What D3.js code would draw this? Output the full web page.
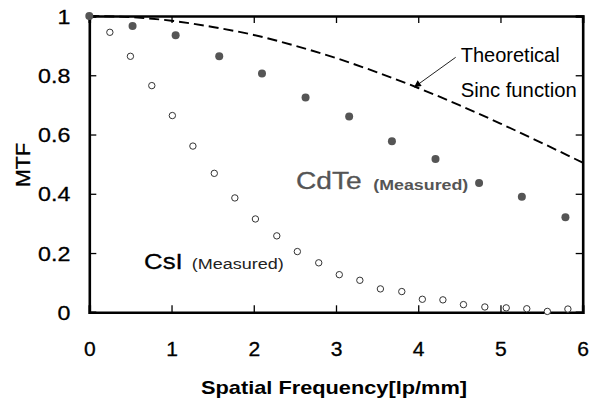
<!DOCTYPE html>
<html>
<head>
<meta charset="utf-8">
<script src="https://cdn.jsdelivr.net/npm/d3@7"></script>
<style>
  body { margin: 0; background: #fff; }
  text { font-family: "Liberation Sans", Arial, sans-serif; }
</style>
</head>
<body>
<div id="chart"></div>
<script>
// values
var cdteFreq = [0, 0.526, 1.05, 1.58, 2.10, 2.63, 3.16, 3.68, 4.21, 4.74, 5.26, 5.79];
var cdteMtf = [1, 0.966, 0.935, 0.864, 0.806, 0.725, 0.661, 0.577, 0.517, 0.436, 0.390, 0.321];

var csiFreq = [0.25, 0.50, 0.76, 1.01, 1.26, 1.52, 1.77, 2.02, 2.28, 2.53, 2.79, 3.04,
  3.29, 3.54, 3.80, 4.05, 4.30, 4.55, 4.81, 5.07, 5.32, 5.57, 5.82];
var csiMtf = [0.945, 0.864, 0.765, 0.664, 0.561, 0.469, 0.386, 0.315, 0.258, 0.205, 0.167, 0.127,
  0.108, 0.079, 0.070, 0.044, 0.042, 0.026, 0.018, 0.015, 0.012, 0.003, 0.011];

var sincFreq = [0, 0.5, 1, 1.5, 2, 2.5, 3, 3.5, 4, 4.5, 5, 5.5, 6];
var sincMtf = [1, 0.996, 0.984, 0.963, 0.936, 0.900, 0.858, 0.810, 0.757, 0.699, 0.637, 0.572, 0.505];

var xTicks = [0, 1, 2, 3, 4, 5, 6];
var xTickLabels = ["0", "1", "2", "3", "4", "5", "6"];
var yTicks = [0, 0.2, 0.4, 0.6, 0.8, 1];
var yTickLabels = ["0", "0.2", "0.4", "0.6", "0.8", "1"];

var svgWidth = 589;
var svgHeight = 400;
var margin = { top: 16, right: 6.3, bottom: 87.7, left: 89.3 };
var width = svgWidth - margin.left - margin.right;
var height = svgHeight - margin.top - margin.bottom;

var svg = d3.select("#chart")
  .append("svg")
  .attr("width", svgWidth)
  .attr("height", svgHeight);

var chartGroup = svg.append("g")
  .attr("transform", `translate(${margin.left}, ${margin.top})`);

var x = d3.scaleLinear().domain([0, 6]).range([0, width]);
var y = d3.scaleLinear().domain([0, 1]).range([height, 0]);

// stretch text horizontally like the picture
function stretch(sel, k) {
  sel.each(function() {
    var w = this.getComputedTextLength();
    d3.select(this).attr("textLength", w * k).attr("lengthAdjust", "spacingAndGlyphs");
  });
}

// the picture's text is a bit heavier than plain regular
function heavy(sel, c) {
  sel.attr("stroke", c).attr("stroke-width", 0.3).attr("stroke-linejoin", "round");
}

// axes: ticks pointing inside
var bottomAxis = d3.axisBottom(x).tickValues(xTicks).tickSize(-7).tickPadding(32)
  .tickFormat((d, i) => xTickLabels[i]);
var leftAxis = d3.axisLeft(y).tickValues(yTicks).tickSize(-7).tickPadding(19)
  .tickFormat((d, i) => yTickLabels[i]);
var topAxis = d3.axisTop(x).tickValues(xTicks).tickSize(-7).tickFormat("");
var rightAxis = d3.axisRight(y).tickValues(yTicks).tickSize(-7).tickFormat("");

var xAxis = chartGroup.append("g")
  .attr("transform", `translate(0, ${height})`)
  .call(bottomAxis);
var yAxis = chartGroup.append("g").call(leftAxis);
chartGroup.append("g").call(topAxis);
chartGroup.append("g").attr("transform", `translate(${width}, 0)`).call(rightAxis);

chartGroup.selectAll(".domain").attr("stroke", "#000").attr("stroke-width", 2.6);
chartGroup.selectAll(".tick line").attr("stroke", "#000").attr("stroke-width", 1.3);

xAxis.selectAll("text")
  .attr("font-size", 19.5)
  .attr("fill", "#000")
  .attr("font-family", "Liberation Sans, Arial, sans-serif")
  .attr("dy", "0.6em")
  .call(stretch, 1.08)
  .call(heavy, "#000");

yAxis.selectAll("text")
  .attr("font-size", 20)
  .attr("fill", "#000")
  .attr("font-family", "Liberation Sans, Arial, sans-serif")
  .attr("dy", "0.36em")
  .call(stretch, 1.16)
  .call(heavy, "#000");

// theoretical sinc, dashed
var line = d3.line()
  .x((d, i) => x(sincFreq[i]))
  .y(d => y(d))
  .curve(d3.curveMonotoneX);

chartGroup.append("path")
  .datum(sincMtf)
  .attr("d", line)
  .attr("fill", "none")
  .attr("stroke", "#000")
  .attr("stroke-width", 1.9)
  .attr("stroke-dasharray", "10,5");

// CsI open circles
chartGroup.selectAll("circle.csi")
  .data(csiMtf)
  .enter()
  .append("circle")
  .attr("class", "csi")
  .attr("cx", (d, i) => x(csiFreq[i]))
  .attr("cy", d => y(d))
  .attr("r", 3.2)
  .attr("fill", "#fff")
  .attr("stroke", "#333")
  .attr("stroke-width", 1);

// CdTe filled circles
chartGroup.selectAll("circle.cdte")
  .data(cdteMtf)
  .enter()
  .append("circle")
  .attr("class", "cdte")
  .attr("cx", (d, i) => x(cdteFreq[i]))
  .attr("cy", d => y(d))
  .attr("r", 4)
  .attr("fill", "#555");

// arrow to the curve
svg.append("defs").append("marker")
  .attr("id", "arrow")
  .attr("viewBox", "0 0 10 10")
  .attr("refX", 10)
  .attr("refY", 5)
  .attr("markerWidth", 9)
  .attr("markerHeight", 7)
  .attr("markerUnits", "userSpaceOnUse")
  .attr("orient", "auto")
  .append("path")
  .attr("d", "M0,0L10,5L0,10z")
  .attr("fill", "#000");

svg.append("line")
  .attr("x1", 455.7).attr("y1", 57.3)
  .attr("x2", 414).attr("y2", 87.3)
  .attr("stroke", "#222")
  .attr("stroke-width", 1)
  .attr("marker-end", "url(#arrow)");

// labels
svg.append("text").attr("x", 460.7).attr("y", 61.7)
  .attr("font-size", 20).attr("fill", "#000")
  .text("Theoretical").attr("textLength", 99).attr("lengthAdjust", "spacingAndGlyphs");

svg.append("text").attr("x", 460.7).attr("y", 96.7)
  .attr("font-size", 20).attr("fill", "#000")
  .text("Sinc function").attr("textLength", 116).attr("lengthAdjust", "spacingAndGlyphs");

svg.append("text").attr("x", 296).attr("y", 189.3)
  .attr("font-size", 23).attr("fill", "#555")
  .text("CdTe").attr("textLength", 65.7).attr("lengthAdjust", "spacingAndGlyphs")
  .call(heavy, "#555");

svg.append("text").attr("x", 373.3).attr("y", 189.8)
  .attr("font-size", 14).attr("font-weight", "bold").attr("fill", "#555")
  .text("(Measured)").attr("textLength", 95).attr("lengthAdjust", "spacingAndGlyphs");

svg.append("text").attr("x", 144).attr("y", 269.3)
  .attr("font-size", 22).attr("fill", "#000")
  .text("CsI").attr("textLength", 38.7).attr("lengthAdjust", "spacingAndGlyphs")
  .call(heavy, "#000");

svg.append("text").attr("x", 191.7).attr("y", 269.3)
  .attr("font-size", 14).attr("fill", "#222")
  .text("(Measured)").attr("textLength", 92).attr("lengthAdjust", "spacingAndGlyphs");

svg.append("text")
  .attr("transform", "translate(30, 165) rotate(-90)")
  .attr("text-anchor", "middle")
  .attr("font-size", 20).attr("fill", "#000")
  .text("MTF").attr("textLength", 44).attr("lengthAdjust", "spacingAndGlyphs")
  .call(heavy, "#000");

svg.append("text").attr("x", 201).attr("y", 393.5)
  .attr("font-size", 19).attr("font-weight", "bold").attr("fill", "#000")
  .text("Spatial Frequency[lp/mm]").attr("textLength", 266).attr("lengthAdjust", "spacingAndGlyphs");
</script>
</body>
</html>
